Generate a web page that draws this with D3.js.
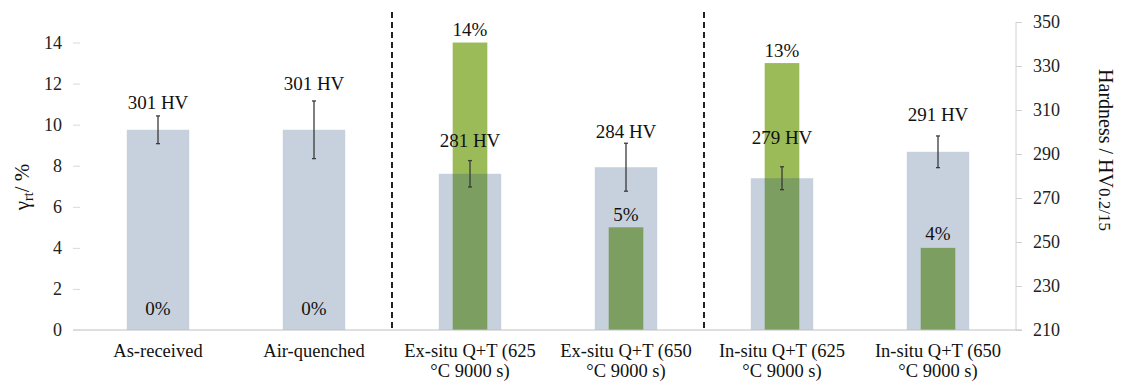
<!DOCTYPE html>
<html>
<head>
<meta charset="utf-8">
<script src="https://cdn.jsdelivr.net/npm/d3@7"></script>
<style>
  html, body { margin: 0; padding: 0; background: #fff; }
  svg { display: block; }
  svg text { font-family: "Liberation Serif", "Times New Roman", serif; }
</style>
</head>
<body>
<svg id="chart" width="1124" height="387"></svg>
<script>
// Heat-treatment conditions
const categories = [
  "As-received",
  "Air-quenched",
  "Ex-situ Q+T (625 °C 9000 s)",
  "Ex-situ Q+T (650 °C 9000 s)",
  "In-situ Q+T (625 °C 9000 s)",
  "In-situ Q+T (650 °C 9000 s)"
];
// Retained austenite fraction, %
const austenite = [0, 0, 14, 5, 13, 4];
// Vickers hardness, HV0.2/15, with standard deviation
const hardness = [301, 301, 281, 284, 279, 291];
const hardnessErr = [6.3, 13.1, 6, 10.9, 5.2, 7.2];
// Axis ticks
const leftTicks = [0, 2, 4, 6, 8, 10, 12, 14];
const rightTicks = [210, 230, 250, 270, 290, 310, 330, 350];
// Group separators sit before these categories
const separators = [2, 4];

const FONT = "Liberation Serif";
const svg = d3.select("#chart").attr("font-family", FONT);
const plot = { left: 80, right: 1016, top: 22, bottom: 330 };

const x = d3.scaleBand().domain(d3.range(categories.length))
  .range([plot.left, plot.right]).paddingInner(0).paddingOuter(0);
const yL = d3.scaleLinear().domain([0, 15]).range([plot.bottom, plot.top]);
const yR = d3.scaleLinear().domain([210, 350]).range([plot.bottom, plot.top]);

const bw = x.bandwidth();
const cx = i => x(i) + bw / 2;
const blueW = bw * 0.4, greenW = bw * 0.222;

// Austenite bars (behind)
svg.append("g").selectAll("rect").data(austenite).join("rect")
  .attr("x", (d, i) => cx(i) - greenW / 2)
  .attr("width", greenW)
  .attr("y", d => yL(d))
  .attr("height", d => yL(0) - yL(d))
  .attr("fill", "#9bbb59");

// Hardness bars (translucent, in front)
svg.append("g").selectAll("rect").data(hardness).join("rect")
  .attr("x", (d, i) => cx(i) - blueW / 2)
  .attr("width", blueW)
  .attr("y", d => yR(d))
  .attr("height", d => yR(210) - yR(d))
  .attr("fill", "#1f497d")
  .attr("fill-opacity", 0.25);

// Error bars
const eb = svg.append("g").attr("stroke", "#3a3a3a").attr("stroke-width", 1.3);
hardness.forEach((h, i) => {
  const top = yR(h + hardnessErr[i]), bot = yR(h - hardnessErr[i]);
  eb.append("line").attr("x1", cx(i)).attr("x2", cx(i)).attr("y1", top).attr("y2", bot);
  eb.append("line").attr("x1", cx(i) - 2).attr("x2", cx(i) + 2).attr("y1", top).attr("y2", top);
  eb.append("line").attr("x1", cx(i) - 2).attr("x2", cx(i) + 2).attr("y1", bot).attr("y2", bot);
});

// Baseline, right axis line
svg.append("line").attr("x1", 73).attr("x2", plot.right + 6)
  .attr("y1", plot.bottom).attr("y2", plot.bottom)
  .attr("stroke", "#bfbfbf").attr("stroke-width", 1);
svg.append("line").attr("x1", plot.right).attr("x2", plot.right)
  .attr("y1", plot.top).attr("y2", plot.bottom)
  .attr("stroke", "#d0d0d0").attr("stroke-width", 1);

// Left axis
const gL = svg.append("g").attr("transform", `translate(${plot.left},0)`)
  .call(d3.axisLeft(yL).tickValues(leftTicks).tickSize(7).tickPadding(11))
  .attr("font-family", FONT);
gL.select(".domain").remove();
gL.selectAll(".tick line").attr("stroke", "#d9d9d9");
gL.selectAll(".tick text").attr("font-size", 18).attr("fill", "#222");

// Right axis
const gR = svg.append("g").attr("transform", `translate(${plot.right},0)`)
  .call(d3.axisRight(yR).tickValues(rightTicks).tickSize(6).tickPadding(11))
  .attr("font-family", FONT);
gR.select(".domain").remove();
gR.selectAll(".tick line").attr("stroke", "#d0d0d0");
gR.selectAll(".tick text").attr("font-size", 18).attr("fill", "#222");

// Dashed group separators
svg.append("g").selectAll("line").data(separators).join("line")
  .attr("x1", d => x(d)).attr("x2", d => x(d))
  .attr("y1", 12).attr("y2", plot.bottom)
  .attr("stroke", "#222").attr("stroke-width", 2)
  .attr("stroke-dasharray", "6,4");

// Value labels
const hvLift = [21, 40, 27, 29, 34, 31];
const pctLift = [15, 15, 7, 6, 6, 8];
svg.append("g").selectAll("text").data(hardness).join("text")
  .attr("x", (d, i) => cx(i))
  .attr("y", (d, i) => yR(d) - hvLift[i])
  .attr("text-anchor", "middle").attr("font-size", 19).attr("fill", "#111")
  .text(d => `${Math.round(d)} HV`);
svg.append("g").selectAll("text").data(austenite).join("text")
  .attr("x", (d, i) => cx(i))
  .attr("y", (d, i) => yL(d) - pctLift[i])
  .attr("text-anchor", "middle").attr("font-size", 19).attr("fill", "#111")
  .text(d => `${d}%`);

// Category labels, wrapped to the band width
const catG = svg.append("g");
categories.forEach((c, i) => {
  const t = catG.append("text").attr("x", cx(i)).attr("y", 357)
    .attr("text-anchor", "middle").attr("font-size", 18.5).attr("fill", "#111");
  const words = c.split(" ");
  let line = [];
  let ts = t.append("tspan").attr("x", cx(i)).attr("dy", 0);
  words.forEach(w => {
    line.push(w);
    ts.text(line.join(" "));
    if (ts.node().getComputedTextLength() > bw * 0.9 && line.length > 1) {
      line.pop();
      ts.text(line.join(" "));
      line = [w];
      ts = t.append("tspan").attr("x", cx(i)).attr("dy", 20).text(w);
    }
  });
});

// Axis titles
const tl = svg.append("text")
  .attr("transform", "translate(29,187) rotate(-90)")
  .attr("text-anchor", "middle").attr("font-size", 21).attr("fill", "#111");
tl.append("tspan").text("γ");
tl.append("tspan").attr("font-size", 14).attr("dy", 4).text("rt");
tl.append("tspan").attr("dy", -4).text("/ %");

const tr = svg.append("text")
  .attr("transform", "translate(1099,150) rotate(90)")
  .attr("text-anchor", "middle").attr("font-size", 20).attr("fill", "#111");
tr.append("tspan").text("Hardness / HV");
tr.append("tspan").attr("font-size", 17).text("0.2/15");
</script>
</body>
</html>
